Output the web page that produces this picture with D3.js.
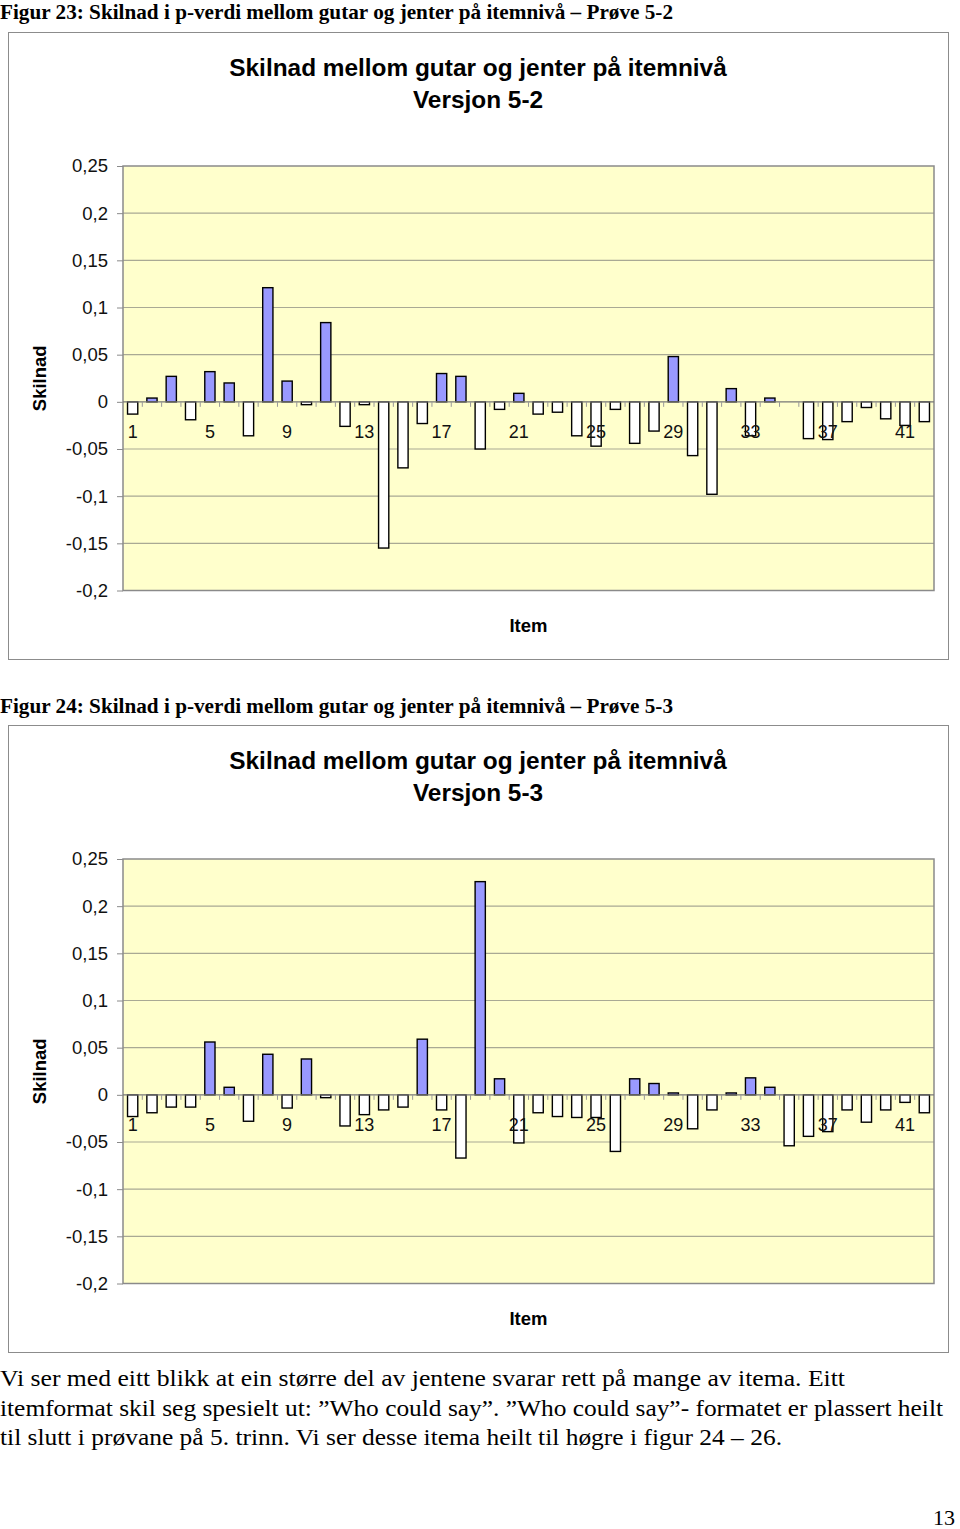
<!DOCTYPE html>
<html>
<head>
<meta charset="utf-8">
<script src="https://cdn.jsdelivr.net/npm/d3@7"></script>
<style>
  body { margin: 0; background: #fff; }
  svg { display: block; }
</style>
</head>
<body>
<svg id="page" width="960" height="1529"></svg>
<script>
// --- Data ---
const items = d3.range(1, 43);
const itemLabels = [1, 5, 9, 13, 17, 21, 25, 29, 33, 37, 41];
const yTicks = [-0.2, -0.15, -0.1, -0.05, 0, 0.05, 0.1, 0.15, 0.2, 0.25];

const diff52 = [-0.013, 0.004, 0.027, -0.019, 0.032, 0.020, -0.036, 0.121, 0.022, -0.003,
  0.084, -0.026, -0.003, -0.155, -0.070, -0.023, 0.030, 0.027, -0.050, -0.008,
  0.009, -0.013, -0.011, -0.036, -0.047, -0.008, -0.044, -0.031, 0.048, -0.057,
  -0.098, 0.014, -0.036, 0.004, 0, -0.039, -0.040, -0.021, -0.006, -0.018,
  -0.025, -0.021];

const diff53 = [-0.023, -0.019, -0.013, -0.013, 0.056, 0.008, -0.028, 0.043, -0.014, 0.038,
  -0.003, -0.033, -0.021, -0.016, -0.013, 0.059, -0.016, -0.067, 0.226, 0.017,
  -0.051, -0.019, -0.023, -0.024, -0.024, -0.060, 0.017, 0.012, 0.002, -0.036,
  -0.016, 0.002, 0.018, 0.008, -0.054, -0.044, -0.039, -0.016, -0.029, -0.016,
  -0.008, -0.019];

const captions = [
  "Figur 23: Skilnad i p-verdi mellom gutar og jenter på itemnivå – Prøve 5-2",
  "Figur 24: Skilnad i p-verdi mellom gutar og jenter på itemnivå – Prøve 5-3"
];
const chartTitle = "Skilnad mellom gutar og jenter på itemnivå";
const versions = ["Versjon 5-2", "Versjon 5-3"];
const paragraph = [
  "Vi ser med eitt blikk at  ein større del av jentene svarar rett på mange av itema. Eitt",
  "itemformat skil seg spesielt ut: ”Who could say”. ”Who could say”- formatet er plassert heilt",
  "til slutt i prøvane på 5. trinn. Vi ser desse itema heilt til høgre i figur 24 – 26."
];

// --- Setup ---
const svg = d3.select("#page");
const serif = "'Liberation Serif', 'Times New Roman', serif";
const sans = "'Liberation Sans', Arial, sans-serif";
const nb = d3.formatLocale({ decimal: ",", thousands: ".", grouping: [3], currency: ["", ""], minus: "-" });
const fmt = nb.format("~f");

svg.append("rect").attr("width", 960).attr("height", 1529).attr("fill", "#fff");

const plotLeft = 123, plotRight = 934;
const x = d3.scaleBand().domain(items).range([plotLeft, plotRight]).paddingInner(0.47).paddingOuter(0.235);
const xStep = d3.scaleBand().domain(items).range([plotLeft, plotRight]);

// --- Chart builder ---
function buildChart(top, caption, version, values, captionY) {
  svg.append("text")
    .attr("x", 0).attr("y", captionY)
    .attr("font-family", serif).attr("font-weight", "bold").attr("font-size", 21)
    .attr("textLength", 673).attr("lengthAdjust", "spacingAndGlyphs")
    .text(caption);

  const g = svg.append("g").attr("transform", `translate(0,${top})`);

  g.append("rect")
    .attr("x", 8.5).attr("y", 0.5).attr("width", 940).attr("height", 627)
    .attr("fill", "#fff").attr("stroke", "#8c8c8c");

  g.append("text").attr("x", 478).attr("y", 44).attr("text-anchor", "middle")
    .attr("font-family", sans).attr("font-weight", "bold").attr("font-size", 24.4)
    .text(chartTitle);
  g.append("text").attr("x", 478).attr("y", 76).attr("text-anchor", "middle")
    .attr("font-family", sans).attr("font-weight", "bold").attr("font-size", 24.4)
    .text(version);

  const y = d3.scaleLinear().domain([-0.2, 0.25]).range([134 + 424.5, 134]);

  g.append("rect")
    .attr("x", plotLeft).attr("y", y(0.25))
    .attr("width", plotRight - plotLeft).attr("height", y(-0.2) - y(0.25))
    .attr("fill", "#ffffcc");

  // gridlines
  g.append("g").selectAll("line")
    .data(yTicks.filter(d => d !== 0 && d !== 0.25 && d !== -0.2))
    .join("line")
    .attr("x1", plotLeft).attr("x2", plotRight)
    .attr("y1", d => y(d)).attr("y2", d => y(d))
    .attr("stroke", "#a9a994").attr("stroke-width", 1.2);

  g.append("rect")
    .attr("x", plotLeft).attr("y", y(0.25))
    .attr("width", plotRight - plotLeft).attr("height", y(-0.2) - y(0.25))
    .attr("fill", "none").attr("stroke", "#8a8a8a").attr("stroke-width", 1.5);

  // y axis
  const yAxis = g.append("g")
    .attr("transform", `translate(${plotLeft},0)`)
    .call(d3.axisLeft(y).tickValues(yTicks).tickFormat(fmt).tickSize(6).tickPadding(9));
  yAxis.select(".domain").remove();
  yAxis.selectAll(".tick line").attr("stroke", "#8a8a8a");
  yAxis.selectAll(".tick text")
    .attr("font-family", sans).attr("font-size", 18.5).attr("fill", "#111");

  g.append("text")
    .attr("transform", `translate(46,${(y(0.25) + y(-0.2)) / 2}) rotate(-90)`)
    .attr("text-anchor", "middle")
    .attr("font-family", sans).attr("font-weight", "bold").attr("font-size", 18.5)
    .text("Skilnad");

  // bars
  g.append("g").selectAll("rect")
    .data(values)
    .join("rect")
    .attr("x", (d, i) => x(items[i]))
    .attr("width", x.bandwidth())
    .attr("y", d => y(Math.max(0, d)))
    .attr("height", d => Math.abs(y(d) - y(0)))
    .attr("fill", d => d > 0 ? "#9999ff" : "#ffffff")
    .attr("stroke", "#000").attr("stroke-width", 1.4);

  // category axis at zero
  const zero = y(0);
  g.append("line")
    .attr("x1", plotLeft).attr("x2", plotRight)
    .attr("y1", zero).attr("y2", zero)
    .attr("stroke", "#777").attr("stroke-width", 1.2);
  g.append("g").selectAll("line")
    .data(items.slice(1))
    .join("line")
    .attr("x1", d => xStep(d)).attr("x2", d => xStep(d))
    .attr("y1", zero).attr("y2", zero + 5)
    .attr("stroke", "#999");
  g.append("g").selectAll("text")
    .data(itemLabels)
    .join("text")
    .attr("x", d => xStep(d) + xStep.bandwidth() / 2)
    .attr("y", zero + 36.5)
    .attr("text-anchor", "middle")
    .attr("font-family", sans).attr("font-size", 18).attr("fill", "#111")
    .text(d => d);

  g.append("text")
    .attr("x", (plotLeft + plotRight) / 2).attr("y", 600)
    .attr("text-anchor", "middle")
    .attr("font-family", sans).attr("font-weight", "bold").attr("font-size", 18.5)
    .text("Item");
}

buildChart(32, captions[0], versions[0], diff52, 19);
buildChart(725, captions[1], versions[1], diff53, 713);

// --- Body text ---
const lineLens = [845, 943, 782];
svg.append("g").selectAll("text")
  .data(paragraph)
  .join("text")
  .attr("x", 0)
  .attr("y", (d, i) => 1386 + i * 29.5)
  .attr("font-family", serif).attr("font-size", 23.5)
  .attr("textLength", (d, i) => lineLens[i]).attr("lengthAdjust", "spacingAndGlyphs")
  .text(d => d);

svg.append("text")
  .attr("x", 955).attr("y", 1525).attr("text-anchor", "end")
  .attr("font-family", serif).attr("font-size", 22)
  .attr("textLength", 22).attr("lengthAdjust", "spacingAndGlyphs")
  .text("13");
</script>
</body>
</html>
